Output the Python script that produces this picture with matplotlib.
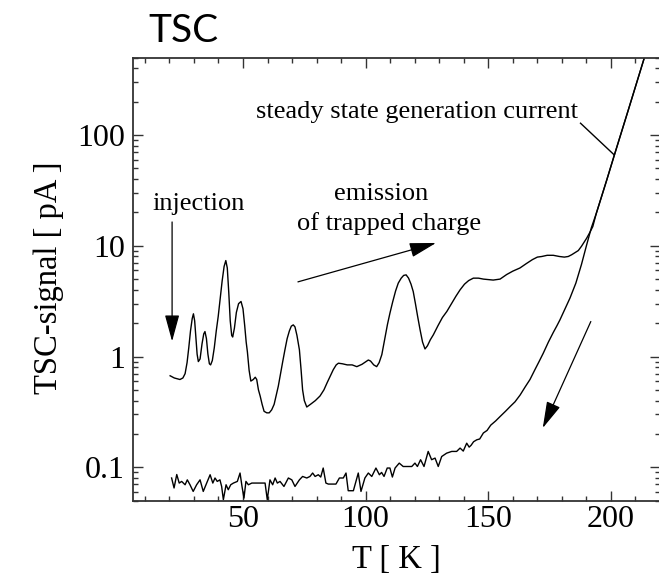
import matplotlib
matplotlib.use('Agg')
import matplotlib.pyplot as plt
from matplotlib.ticker import FixedLocator, LogLocator, NullFormatter, FixedFormatter, MultipleLocator

# ---------------- data ----------------
# TSC signal (upper curve)
T_sig = [20.3, 22.0, 24.3, 25.5, 26.4, 27.2, 27.9, 28.6, 29.3, 29.8, 30.3, 30.8,
         31.3, 31.8, 32.5, 33.3, 34.0, 34.5, 35.1, 35.7, 36.3, 36.8, 37.5, 38.3,
         39.1, 39.9, 40.7, 41.5, 42.3, 43.0, 43.6, 44.2, 44.8, 45.4, 45.8, 46.5,
         47.3, 48.2, 49.2, 50.0, 50.7, 51.3, 51.8, 52.5, 53.2, 54.2, 55.0, 55.6,
         56.3, 57.0, 57.8, 58.6, 59.7, 60.7, 61.7, 62.7, 63.6, 64.4, 65.3, 66.2,
         67.1, 68.0, 68.9, 69.7, 70.5, 71.2, 72.0, 73.0, 73.7, 74.3, 75.0, 76.0,
         77.5, 79.5, 81.4, 83.0, 84.3, 85.5, 86.8, 88.0, 88.9, 90.5, 92.5, 94.5,
         96.4, 98.5, 100.2, 101.1, 102.0, 103.3, 104.5, 105.5, 106.6, 107.8, 108.9,
         109.9, 111.0, 112.2, 113.3, 114.5, 115.5, 116.5, 117.5, 118.5, 119.4,
         120.3, 121.2, 122.2, 123.2, 124.2, 125.2, 126.4, 127.6, 129.5, 131.3,
         133.1, 135.0, 136.8, 138.5, 140.3, 142.0, 143.9, 146.0, 148.0, 150.0,
         152.0, 154.8, 157.5, 160.0, 162.9, 165.5, 168.0, 170.0, 171.8, 174.0,
         176.5, 179.0, 181.0, 182.6, 184.0, 185.5, 186.7, 188.0, 189.2, 190.1,
         191.4, 192.6]
I_sig = [0.67, 0.64, 0.62, 0.64, 0.70, 0.88, 1.2, 1.7, 2.2, 2.43, 2.1, 1.5,
         1.05, 0.90, 0.95, 1.3, 1.6, 1.68, 1.45, 1.05, 0.86, 0.84, 0.92, 1.2,
         1.7, 2.3, 3.3, 4.8, 6.5, 7.35, 6.3, 3.8, 2.1, 1.55, 1.50, 1.8,
         2.5, 3.0, 3.14, 2.7, 1.9, 1.35, 1.1, 0.75, 0.60, 0.62, 0.65, 0.62,
         0.50, 0.44, 0.37, 0.32, 0.31, 0.31, 0.33, 0.37, 0.45, 0.54, 0.70, 0.90,
         1.15, 1.45, 1.70, 1.88, 1.93, 1.85, 1.55, 1.15, 0.75, 0.50, 0.40, 0.35,
         0.37, 0.40, 0.44, 0.50, 0.58, 0.66, 0.76, 0.84, 0.87, 0.86, 0.84, 0.84,
         0.81, 0.85, 0.90, 0.93, 0.91, 0.84, 0.81, 0.88, 1.04, 1.45, 1.95,
         2.46, 3.1, 3.9, 4.6, 5.1, 5.4, 5.46, 5.1, 4.5, 3.86,
         3.0, 2.3, 1.74, 1.35, 1.17, 1.25, 1.42, 1.57, 1.9, 2.25,
         2.55, 3.0, 3.5, 4.0, 4.5, 4.85, 5.1, 5.1, 5.0, 4.95,
         4.9, 5.0, 5.5, 5.9, 6.3, 6.9, 7.5, 7.9, 8.0, 8.2,
         8.2, 8.0, 7.9, 8.0, 8.3, 8.7, 9.05, 9.9, 10.9, 11.7,
         13.2, 14.9]

# steady state generation current (lower curve)
T_bg = [20.9, 21.9, 23.0, 24.0, 25.0, 26.4, 27.3, 28.4, 29.7, 31.1, 32.5, 33.8,
        35.2, 36.6, 37.7, 38.6, 39.5, 40.6, 41.3, 42.0, 43.1, 44.0, 45.0, 46.1,
        47.7, 48.8, 49.6, 50.4, 51.2, 52.2, 53.6, 59.0, 59.9, 61.0, 62.1, 63.1,
        64.0, 65.1, 66.7, 68.5, 69.9, 71.2, 73.0, 74.3, 76.0, 77.3, 78.4, 79.4,
        80.7, 81.7, 82.7, 83.8, 84.8, 87.9, 89.3, 90.9, 92.0, 92.9, 95.0, 97.0,
        98.1, 99.7, 101.1, 102.5, 104.2, 105.6, 106.5, 107.5, 108.8, 109.9, 110.9,
        112.0, 113.7, 115.3, 118.8, 120.1, 121.1, 122.4, 123.8, 125.5, 126.9,
        128.3, 129.6, 131.0, 133.0, 135.1, 137.1, 138.5, 139.8, 141.2, 142.2,
        143.0, 144.0, 145.3, 146.5, 148.0, 149.5, 151.0, 153.0, 154.8, 157.0,
        159.0, 160.9, 163.0, 165.0, 167.0, 169.0, 170.7, 172.4, 174.5, 176.5,
        178.0, 179.2, 181.3, 183.3, 185.7, 188.0, 190.0, 192.0]
I_bg = [0.080, 0.065, 0.086, 0.072, 0.0745, 0.0695, 0.077, 0.0695, 0.0605, 0.0695,
        0.077, 0.0605, 0.072, 0.0856, 0.072, 0.080, 0.0745, 0.077, 0.0671, 0.051,
        0.0695, 0.0627, 0.0695, 0.072, 0.0745, 0.0887, 0.0671, 0.0527, 0.0745,
        0.0695, 0.072, 0.072, 0.051, 0.077, 0.0695, 0.080, 0.072, 0.0745, 0.0671,
        0.080, 0.077, 0.0671, 0.077, 0.0826, 0.080, 0.0826, 0.0887, 0.0826, 0.0856,
        0.0816, 0.0984, 0.072, 0.0705, 0.0705, 0.080, 0.080, 0.0887, 0.0614,
        0.0614, 0.0887, 0.0605, 0.080, 0.0887, 0.0826, 0.0984, 0.0856, 0.0898,
        0.0826, 0.0984, 0.0984, 0.0816, 0.0984, 0.109, 0.1016, 0.1016, 0.109,
        0.1016, 0.117, 0.1016, 0.139, 0.117, 0.121, 0.1016, 0.125, 0.134, 0.139,
        0.139, 0.149, 0.140, 0.165, 0.152, 0.158, 0.170, 0.177, 0.180, 0.204,
        0.215, 0.24, 0.262, 0.287, 0.32, 0.355, 0.39, 0.45, 0.53, 0.62, 0.76,
        0.90, 1.07, 1.35, 1.65, 1.9, 2.14, 2.7, 3.37, 4.6, 6.8, 10.0, 14.5]

# common steep part where both curves merge
T_top = [194.0, 198.3, 201.4, 207.0, 213.6]
I_top = [19.5, 39.3, 66.0, 166.0, 497.0]

x_ticks = [50, 100, 150, 200]
x_ticklabels = ['50', '100', '150', '200']
y_ticks = [0.1, 1, 10, 100]
y_ticklabels = ['0.1', '1', '10', '100']

# ---------------- figure ----------------
W, H = 659, 578
fig = plt.figure(figsize=(W / 100, H / 100), dpi=100)
ax = fig.add_axes([132.6 / W, (H - 500.6) / H, (660 - 132.6) / W, (500.6 - 57.6) / H])

serif = ['Liberation Serif', 'DejaVu Serif']
lw = 1.0
ax.plot(T_sig + T_top, I_sig + I_top, color='black', lw=lw)
ax.plot(T_bg + T_top, I_bg + I_top, color='black', lw=lw)

ax.set_yscale('log')
ax.set_xlim(5, 220)
ax.set_ylim(0.05, 500)

ax.xaxis.set_major_locator(FixedLocator(x_ticks))
ax.xaxis.set_major_formatter(FixedFormatter(x_ticklabels))
ax.xaxis.set_minor_locator(MultipleLocator(10))
ax.yaxis.set_major_locator(FixedLocator(y_ticks))
ax.yaxis.set_major_formatter(FixedFormatter(y_ticklabels))
ax.yaxis.set_minor_locator(LogLocator(base=10, subs=[2, 3, 4, 5, 6, 7, 8, 9]))
ax.yaxis.set_minor_formatter(NullFormatter())

ax.tick_params(which='both', direction='in', top=True, right=True, width=1.0, color='#333333')
ax.tick_params(which='major', length=7.2)
ax.tick_params(which='minor', length=3.6)
ax.tick_params(axis='y', which='major', pad=5.5)
ax.tick_params(axis='x', which='major', pad=3)
for lab in ax.get_xticklabels() + ax.get_yticklabels():
    lab.set_family(serif)
    lab.set_fontsize(23)
for s in ax.spines.values():
    s.set_linewidth(1.3)
    s.set_color('#333333')

# annotations
txt = dict(family=serif, fontsize=19, color='black')
ax.text(55.3, 141.8, 'steady state generation current', ha='left', va='baseline', **txt)
ax.text(12.9, 21.1, 'injection', ha='left', va='baseline', **txt)
ax.text(106.5, 25.9, 'emission', ha='center', va='baseline', **txt)
ax.text(109.5, 13.9, 'of trapped charge', ha='center', va='baseline', **txt)

ax.plot([187.6, 201.35], [127.8, 66.1], color='black', lw=1.0)

arr = dict(arrowstyle='-|>,head_length=1.1,head_width=0.3', color='black', lw=0.9,
           shrinkA=0, shrinkB=0, mutation_scale=15)
ax.annotate('', xy=(21.1, 1.37), xytext=(21.1, 16.4), arrowprops=arr)
ax.annotate('', xy=(128.7, 10.6), xytext=(72.4, 4.72), arrowprops=arr)
ax.annotate('', xy=(172.2, 0.226), xytext=(191.8, 2.07), arrowprops=arr)

# labels and title
fig.text(183 / W, 1 - 42 / H, 'TSC', family=['Lato', 'DejaVu Sans'], fontsize=28,
         ha='center', va='baseline')
fig.text(49 / W, 1 - 278 / H, 'TSC-signal [ pA ]', family=serif, fontsize=23.5,
         rotation=90, ha='center', va='center')
fig.text(396 / W, 1 - 560 / H, 'T [ K ]', family=serif, fontsize=23.5,
         ha='center', va='center')

fig.savefig('out.png', dpi=100)
